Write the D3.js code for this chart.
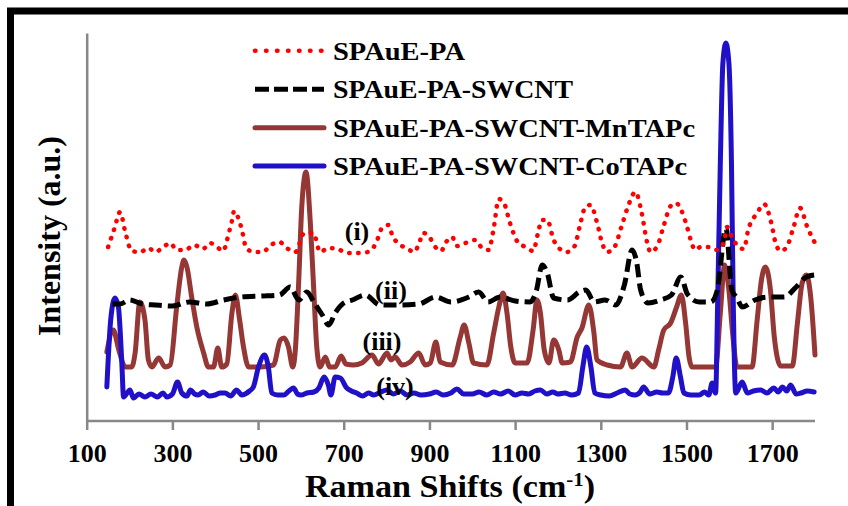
<!DOCTYPE html>
<html>
<head>
<meta charset="utf-8">
<script src="https://cdn.jsdelivr.net/npm/d3@7"></script>
<style>
  html, body { margin: 0; padding: 0; background: #fff; }
  svg { display: block; }
  text { font-family: "Liberation Serif", "Times New Roman", serif; font-weight: bold; fill: #000; }
</style>
</head>
<body>
<svg id="chart" width="848" height="506"></svg>
<script>
// Raman shift (cm-1) and intensity (a.u., curves offset for stacking)
const seriesNames = ["SPAuE-PA", "SPAuE-PA-SWCNT", "SPAuE-PA-SWCNT-MnTAPc", "SPAuE-PA-SWCNT-CoTAPc"];
const curveLabels = ["(i)", "(ii)", "(iii)", "(iv)"];
const xTicks = [100, 300, 500, 700, 900, 1100, 1300, 1500, 1700];

const paShift = [150,165,178,190,205,225,244,260,279,295,310,330,351,371,388,404,419,427,433,439,444,457,466,471,489,511,530,550,567,587,608,629,645,664,685,709,729,756,770,781,789,805,813,826,846,865,876,886,900,912,927,939,953,964,984,1007,1023,1038,1049,1062,1074,1088,1106,1124,1142,1154,1162,1175,1190,1202,1221,1239,1251,1264,1276,1292,1303,1315,1332,1348,1363,1381,1395,1408,1416,1432,1446,1463,1475,1498,1510,1520,1533,1552,1570,1587,1595,1605,1622,1634,1644,1665,1681,1698,1708,1720,1734,1750,1765,1782,1800];
const paInt = [174,193,209,189,170,169,173,169,174,178,171,171,176,172,178,174,170,180,190,200,210,199,184,174,169,169,176,179,173,169,188,188,169,173,172,168,168,169,174,184,193,196,186,178,173,169,178,188,184,175,170,179,184,175,178,181,173,171,190,222,218,198,179,174,170,189,201,201,181,173,169,175,195,214,216,197,178,169,174,194,214,229,209,179,169,175,194,215,218,199,181,171,174,174,171,178,194,185,174,172,191,208,217,198,178,170,174,194,213,194,178];

const cntShift = [160,178,200,230,260,300,340,380,420,460,510,550,575,595,614,630,650,665,680,700,720,750,785,830,875,915,950,992,1015,1037,1065,1100,1135,1150,1163,1175,1190,1222,1250,1265,1285,1310,1335,1355,1373,1384,1393,1410,1440,1465,1487,1502,1530,1557,1572,1592,1606,1618,1630,1660,1690,1728,1756,1780,1800];
const cntInt = [117,117,121,117,116,115,119,117,121,124,125,126,134,121,129,119,106,96,108,118,121,126,116,116,117,124,119,124,129,119,124,120,119,131,156,148,123,121,129,131,119,121,116,136,171,158,131,118,121,126,144,127,119,119,131,193,131,123,114,121,124,124,134,144,146];

const mnShift = [147,162,175,190,205,213,224,236,244,252,268,283,295,310,322,327,334,345,357,373,384,396,406,415,427,439,447,457,466,478,505,536,552,561,571,581,587,595,602,612,622,630,637,645,657,667,680,694,705,723,742,766,781,801,810,820,836,855,875,890,902,915,925,953,972,981,992,1003,1034,1050,1062,1072,1081,1090,1100,1128,1142,1151,1159,1168,1179,1190,1202,1210,1229,1245,1256,1272,1284,1291,1315,1346,1361,1373,1396,1424,1435,1447,1463,1477,1488,1498,1506,1513,1568,1579,1589,1599,1607,1618,1653,1665,1675,1684,1696,1705,1720,1747,1759,1770,1780,1790,1800];
const mnInt = [69,91,71,54,54,68,119,101,61,54,63,54,56,114,154,161,154,124,94,68,54,54,73,54,57,108,126,101,74,54,54,56,81,83,74,54,71,141,214,249,198,131,74,54,64,54,54,65,57,56,58,66,57,68,61,64,56,59,68,56,58,79,59,56,84,96,78,58,56,88,114,128,108,74,58,58,91,121,108,71,58,81,71,58,59,84,93,116,88,61,56,54,68,54,63,54,71,91,98,114,126,98,64,54,54,108,156,131,91,54,54,101,141,154,131,84,55,55,98,138,146,124,66];

const coShift = [147,156,166,174,182,186,201,209,222,236,250,265,278,287,300,312,322,334,342,352,360,372,386,400,412,423,436,450,462,470,480,489,501,515,524,532,546,560,572,583,592,600,614,630,642,654,664,670,680,692,707,718,730,744,758,770,786,801,816,832,848,864,880,900,916,932,950,964,980,1000,1016,1034,1050,1066,1084,1100,1116,1132,1146,1159,1174,1188,1200,1216,1232,1248,1258,1267,1277,1286,1300,1320,1338,1357,1368,1380,1392,1400,1414,1431,1444,1458,1468,1476,1486,1494,1510,1530,1542,1552,1560,1568,1573,1579,1585,1592,1599,1605,1609,1615,1630,1642,1656,1673,1688,1704,1714,1724,1734,1743,1756,1767,1782,1798];
const coInt = [34,101,123,114,58,24,31,23,27,24,27,24,28,24,27,39,28,25,31,27,26,29,25,26,28,28,25,31,26,27,30,34,54,66,54,28,26,26,30,33,27,26,28,29,33,44,36,26,44,43,33,30,28,25,28,26,29,31,27,30,26,28,26,27,29,26,28,32,27,27,29,26,29,27,30,26,28,27,30,31,27,29,27,28,26,28,54,74,54,28,26,25,28,31,27,26,29,34,27,29,28,28,44,63,44,28,26,26,29,26,38,28,124,258,358,378,358,258,124,28,39,28,30,31,28,33,29,34,30,36,27,28,30,29];

const svg = d3.select("#chart");
const W = 848, H = 506;

// outer frame
svg.append("rect")
  .attr("x", 10.5).attr("y", 11)
  .attr("width", W + 20).attr("height", H + 20)
  .attr("fill", "none").attr("stroke", "#000").attr("stroke-width", 7);

const x = d3.scaleLinear().domain([100, 1800]).range([86.7, 815]);
const y = d3.scaleLinear().domain([0, 388]).range([421, 33]);

const axisColor = "#888888";

// x axis with ticks below the line
const xAxis = d3.axisBottom(x).tickValues(xTicks).tickSize(9).tickPadding(14)
  .tickFormat(d3.format("d"));
const gx = svg.append("g").attr("transform", `translate(0,${y(0)})`).call(xAxis);
gx.select(".domain").attr("stroke", axisColor).attr("stroke-width", 2.5)
  .attr("d", `M${x(100)},0H${x(1800)}`);
gx.selectAll(".tick line").attr("stroke", axisColor).attr("stroke-width", 2.5);
gx.selectAll(".tick text")
  .attr("font-family", "'Liberation Serif', 'Times New Roman', serif")
  .attr("font-weight", "bold").attr("font-size", 26).attr("fill", "#000");

// y axis: plain line, no ticks
const yAxis = d3.axisLeft(y).tickValues([]).tickSizeOuter(0);
const gy = svg.append("g").attr("transform", `translate(${x(100)},0)`).call(yAxis);
gy.select(".domain").attr("stroke", axisColor).attr("stroke-width", 2.5);

// axis titles
svg.append("text")
  .attr("transform", "translate(450,497) scale(1.1,1)")
  .attr("text-anchor", "middle").attr("font-size", 31)
  .call(t => {
    t.append("tspan").text("Raman Shifts (cm");
    t.append("tspan").attr("font-size", 19).attr("dy", -11).text("-1");
    t.append("tspan").attr("dy", 11).text(")");
  });

svg.append("text")
  .attr("transform", "translate(60,236) rotate(-90)")
  .attr("text-anchor", "middle").attr("font-size", 32)
  .text("Intensity (a.u.)");

// series styling
const styles = [
  { color: "#ff0000", width: 4.5, dash: "0.5 8.5", cap: "round" },
  { color: "#000000", width: 5, dash: "13 6", cap: "butt" },
  { color: "#953735", width: 5, dash: null, cap: "round" },
  { color: "#2010c8", width: 5, dash: null, cap: "round" }
];
const data = [
  d3.zip(paShift, paInt),
  d3.zip(cntShift, cntInt),
  d3.zip(mnShift, mnInt),
  d3.zip(coShift, coInt)
];

const line = d3.line()
  .x(d => x(d[0])).y(d => y(d[1]))
  .curve(d3.curveMonotoneX);

const drawOrder = [2, 3, 1, 0];
drawOrder.forEach(i => {
  const s = styles[i];
  svg.append("path")
    .datum(data[i])
    .attr("d", line)
    .attr("fill", "none")
    .attr("stroke", s.color)
    .attr("stroke-width", s.width)
    .attr("stroke-linecap", s.cap)
    .attr("stroke-linejoin", "round")
    .attr("stroke-dasharray", s.dash);
});

// curve labels
const labelPos = [[357, 240], [391, 299], [382, 350], [395, 395]];
curveLabels.forEach((t, i) => {
  svg.append("text")
    .attr("x", labelPos[i][0]).attr("y", labelPos[i][1])
    .attr("text-anchor", "middle").attr("font-size", 26)
    .text(t);
});

// legend
const legend = svg.append("g");
const rowY = [50.7, 89.3, 127.7, 166];
const nameWidths = [132, 240, 362, 354];
seriesNames.forEach((name, i) => {
  const s = styles[i];
  legend.append("line")
    .attr("x1", 255).attr("x2", 324)
    .attr("y1", rowY[i]).attr("y2", rowY[i])
    .attr("stroke", s.color)
    .attr("stroke-width", s.width)
    .attr("stroke-linecap", s.cap)
    .attr("stroke-dasharray", i === 0 ? "0.5 10.5" : (i === 1 ? "14 5" : null));
  legend.append("text")
    .attr("x", 333).attr("y", rowY[i] + 9)
    .attr("font-size", 26)
    .attr("textLength", nameWidths[i])
    .attr("lengthAdjust", "spacingAndGlyphs")
    .text(name);
});
</script>
</body>
</html>
